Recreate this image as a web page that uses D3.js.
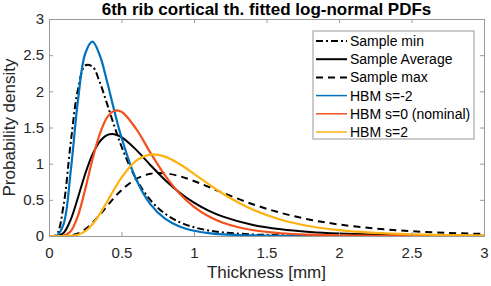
<!DOCTYPE html>
<html>
<head>
<meta charset="utf-8">
<script src="https://cdn.jsdelivr.net/npm/d3@7"></script>
<style>
  body { margin: 0; background: #fff; }
  svg { font-family: "Liberation Sans", Arial, Helvetica, sans-serif; }
</style>
</head>
<body>
<div id="chart"></div>
<script>
// Fitted log-normal PDFs of 6th rib cortical thickness
const thickness = [0, 0.05, 0.1, 0.15, 0.2, 0.25, 0.3, 0.35, 0.4, 0.45, 0.5, 0.6, 0.7, 0.8, 0.9,
  1.0, 1.1, 1.2, 1.4, 1.6, 1.8, 2.0, 2.25, 2.5, 2.75, 3.0];
const sampleMin = [0, 0.016, 0.420, 1.295, 2.030, 2.358, 2.342, 2.127, 1.830, 1.522, 1.238, 0.791, 0.495, 0.308, 0.193,
  0.121, 0.077, 0.050, 0.022, 0.010, 0.005, 0.002, 0.001, 0.0004, 0.0002, 0.0001];
const sampleAvg = [0, 0.0007, 0.043, 0.227, 0.533, 0.860, 1.128, 1.306, 1.394, 1.407, 1.366, 1.194, 0.979, 0.775, 0.602,
  0.462, 0.352, 0.268, 0.156, 0.092, 0.055, 0.033, 0.018, 0.010, 0.006, 0.0035];
const sampleMax = [0, 0, 0.0005, 0.0074, 0.034, 0.093, 0.182, 0.293, 0.413, 0.530, 0.634, 0.788, 0.861, 0.867, 0.827,
  0.760, 0.680, 0.597, 0.443, 0.319, 0.226, 0.159, 0.103, 0.067, 0.043, 0.029];
const hbmMinus2 = [0, 0.001, 0.162, 0.900, 1.879, 2.523, 2.686, 2.499, 2.139, 1.736, 1.361, 0.787, 0.437, 0.239, 0.131,
  0.072, 0.040, 0.023, 0.0075, 0.0026, 0.001, 0.0004, 0.0001, 0, 0, 0];
const hbmNominal = [0, 0, 0.004, 0.067, 0.282, 0.648, 1.059, 1.408, 1.636, 1.732, 1.718, 1.484, 1.150, 0.837, 0.587,
  0.403, 0.273, 0.184, 0.083, 0.038, 0.018, 0.008, 0.003, 0.0014, 0.0006, 0.0003];
const hbmPlus2 = [0, 0, 0.0001, 0.002, 0.018, 0.067, 0.163, 0.303, 0.471, 0.646, 0.806, 1.037, 1.126, 1.097, 0.995,
  0.859, 0.717, 0.584, 0.369, 0.225, 0.135, 0.081, 0.043, 0.023, 0.012, 0.007];

const seriesNames = ['Sample min', 'Sample Average', 'Sample max', 'HBM s=-2', 'HBM s=0 (nominal)', 'HBM s=2'];
const seriesValues = [sampleMin, sampleAvg, sampleMax, hbmMinus2, hbmNominal, hbmPlus2];
const xTicks = [0, 0.5, 1, 1.5, 2, 2.5, 3];
const yTicks = [0, 0.5, 1, 1.5, 2, 2.5, 3];

// line styles
const styles = [
  { color: '#000', dash: '7,3,2,3', width: 2 },
  { color: '#000', dash: null, width: 2 },
  { color: '#000', dash: '7,5', width: 2 },
  { color: '#0072BD', dash: null, width: 2.2 },
  { color: '#F5501C', dash: null, width: 2.2 },
  { color: '#FDB212', dash: null, width: 2.2 }
];

const W = 491, H = 286;
const margin = { top: 19, right: 7, bottom: 50, left: 49 };
const width = W - margin.left - margin.right;
const height = H - margin.top - margin.bottom;

const svg = d3.select('#chart')
  .append('svg')
  .attr('width', W)
  .attr('height', H);

const g = svg.append('g')
  .attr('transform', `translate(${margin.left},${margin.top})`);

const x = d3.scaleLinear().domain([0, 3]).range([0, width]);
const y = d3.scaleLinear().domain([0, 3]).range([height, 0]);

const axisColor = '#9a9a9a';
const textColor = '#262626';

// clip
svg.append('defs').append('clipPath').attr('id', 'clip')
  .append('rect').attr('width', width).attr('height', height);

// curves
const line = d3.line()
  .x(d => x(d[0]))
  .y(d => y(d[1]))
  .curve(d3.curveCatmullRom.alpha(0.5));

const curves = g.append('g').attr('clip-path', 'url(#clip)');
seriesValues.forEach((vals, i) => {
  const pts = thickness.map((t, j) => [t, vals[j]]);
  curves.append('path')
    .datum(pts)
    .attr('d', line)
    .attr('fill', 'none')
    .attr('stroke', styles[i].color)
    .attr('stroke-width', styles[i].width)
    .attr('stroke-dasharray', styles[i].dash);
});

// axes (ticks inward, box on)
const tickLen = 4;
const xAxis = g.append('g')
  .attr('transform', `translate(0,${height})`)
  .call(d3.axisBottom(x).tickValues(xTicks).tickSize(-tickLen).tickPadding(8).tickFormat(d3.format('')));
const xTop = g.append('g')
  .call(d3.axisTop(x).tickValues(xTicks).tickSize(-tickLen).tickFormat(''));
const yAxis = g.append('g')
  .call(d3.axisLeft(y).tickValues(yTicks).tickSize(-tickLen).tickPadding(6).tickFormat(d3.format('')));
const yRight = g.append('g')
  .attr('transform', `translate(${width},0)`)
  .call(d3.axisRight(y).tickValues(yTicks).tickSize(-tickLen).tickFormat(''));

[xAxis, xTop, yAxis, yRight].forEach(a => {
  a.select('.domain').attr('stroke', axisColor).attr('stroke-width', 1);
  a.selectAll('.tick line').attr('stroke', axisColor);
  a.selectAll('.tick text')
    .attr('fill', textColor)
    .style('font-size', '15px')
    .style('font-family', '"Liberation Sans", Arial, sans-serif');
});
xAxis.selectAll('.tick text').attr('dy', '0.95em');
yAxis.selectAll('.tick text').attr('x', -5);

// title and labels
svg.append('text')
  .attr('x', margin.left + width / 2)
  .attr('y', 15)
  .attr('text-anchor', 'middle')
  .attr('fill', '#000')
  .style('font-size', '17px')
  .style('font-weight', 'bold')
  .text('6th rib cortical th. fitted log-normal PDFs');

svg.append('text')
  .attr('x', margin.left + width / 2)
  .attr('y', 278)
  .attr('text-anchor', 'middle')
  .attr('fill', textColor)
  .style('font-size', '17px')
  .text('Thickness [mm]');

svg.append('text')
  .attr('transform', `translate(14.5,${margin.top + height / 2}) rotate(-90)`)
  .attr('text-anchor', 'middle')
  .attr('fill', textColor)
  .style('font-size', '17px')
  .text('Probability density');

// legend
const legend = svg.append('g').attr('transform', 'translate(313,31)');
legend.append('rect')
  .attr('width', 161)
  .attr('height', 108)
  .attr('fill', '#fff')
  .attr('stroke', axisColor)
  .attr('stroke-width', 1);

seriesNames.forEach((name, i) => {
  const row = legend.append('g').attr('transform', `translate(0,${10 + i * 18.2})`);
  row.append('line')
    .attr('x1', 3).attr('x2', 34)
    .attr('stroke', styles[i].color)
    .attr('stroke-width', i < 3 ? 2 : 1.5)
    .attr('stroke-dasharray', styles[i].dash);
  row.append('text')
    .attr('x', 37)
    .attr('y', 5)
    .attr('fill', '#000')
    .style('font-size', '14px')
    .text(name);
});
</script>
</body>
</html>
